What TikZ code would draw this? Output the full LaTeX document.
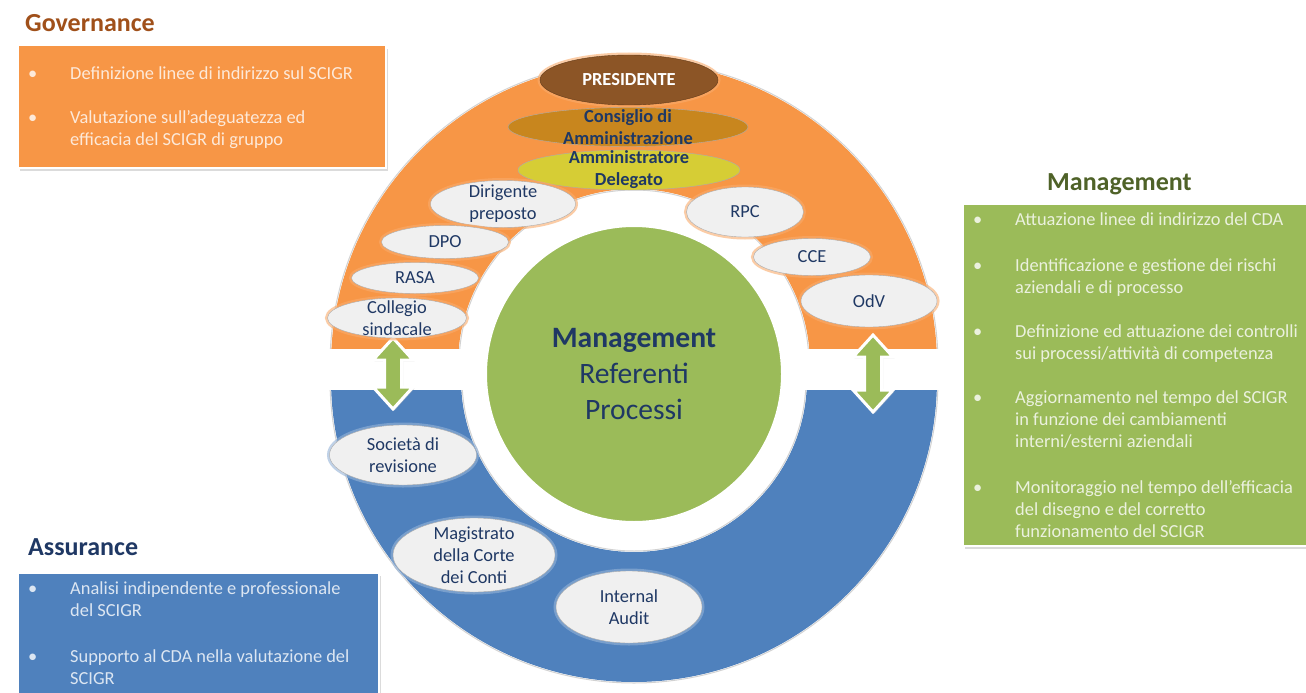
\documentclass[tikz,border=0pt]{standalone}
\usepackage{fontspec}
\setmainfont{Carlito}
\usetikzlibrary{shapes.geometric,shadows}

\definecolor{govorange}{HTML}{F79646}
\definecolor{govhead}{HTML}{A0501A}
\definecolor{govtxt}{HTML}{FDE9D9}
\definecolor{mgmtgreen}{HTML}{9BBB59}
\definecolor{mgmthead}{HTML}{4F6228}
\definecolor{mgmttxt}{HTML}{EBF1DE}
\definecolor{assblue}{HTML}{4F81BD}
\definecolor{asshead}{HTML}{1F3864}
\definecolor{asstxt}{HTML}{DCE6F2}
\definecolor{navytxt}{HTML}{1F3864}
\definecolor{presbrown}{HTML}{8C5526}
\definecolor{cdagold}{HTML}{C8861E}
\definecolor{adyellow}{HTML}{D6CD35}
\definecolor{ellgray}{HTML}{F0F0F0}

\tikzset{
  roleell/.style={ellipse, draw=gray!65, fill=ellgray, inner sep=0pt},
  orangeglow/.style={preaction={draw=govorange!80, line width=5pt, opacity=.6}},
  blueglow/.style={preaction={draw=assblue!60!white, line width=5pt, opacity=.6}},
  roletext/.style={text=navytxt, align=center, font=\fontsize{18.4}{22}\selectfont},
  boxtext/.style={anchor=base west, inner sep=0pt, font=\fontsize{18.4}{22}\selectfont},
  headtext/.style={anchor=base west, inner sep=0pt, font=\fontsize{26}{30}\selectfont\bfseries},
  infobox/.style={draw=white, line width=1.5pt, inner sep=0pt, anchor=north west,
    drop shadow={shadow xshift=2pt, shadow yshift=-3pt, fill=gray!55}},
}

\begin{document}
\begin{tikzpicture}[x=1pt,y=-1pt]
  \useasboundingbox[fill=white] (0,0) rectangle (1306,693);

  % Governance half ring (top)
  \begin{scope}
    \clip (300,40) rectangle (1000,348);
    \fill[govorange, even odd rule] (634,365) circle (303pt) (634,365) circle (176pt);
    \draw[gray!35, line width=1pt] (634,365) circle (304pt) (634,365) circle (175pt);
  \end{scope}

  % Assurance half ring (bottom)
  \begin{scope}
    \clip (300,390) rectangle (1000,693);
    \fill[assblue, even odd rule] (634,379) circle (303pt) (634,379) circle (173pt);
    \draw[gray!35, line width=1pt] (634,379) circle (304pt) (634,379) circle (172pt);
  \end{scope}

  % Management core
  \node[circle, fill=mgmtgreen, draw=white, line width=2pt, minimum size=296pt, inner sep=0pt] (core) at (634,374) {};
  \node[text=navytxt, align=center, font=\fontsize{29.6}{36}\selectfont] (coretext) at (core.center)
    {{\bfseries Management}\\Referenti\\Processi};

  % double arrows between the rings
  \foreach \ax/\at/\ab in {393/338/409, 873/335/412} {
    \fill[mgmtgreen, draw=white, line width=3pt, line join=miter,
      drop shadow={shadow xshift=1.5pt, shadow yshift=-1.5pt, fill=gray!45}]
      (\ax,\at) -- ++(20,22) -- ++(-11.5,0) -- (\ax+8.5,\ab-22) -- ++(11.5,0)
      -- (\ax,\ab) -- ++(-20,-22) -- ++(11.5,0) -- (\ax-8.5,\at+22) -- ++(-11.5,0) -- cycle;
  }

  % governance bodies
  \node[roleell, orangeglow, fill=presbrown, draw=presbrown!70!black, minimum width=178pt, minimum height=50pt] (pres) at (629,80) {};
  \node[text=white, font=\fontsize{18.4}{22}\selectfont\bfseries] at (pres) {PRESIDENTE};
  \node[roleell, fill=cdagold, minimum width=240pt, minimum height=39pt] (cda) at (628,127) {};
  \node[roletext, font=\fontsize{18.4}{22}\selectfont\bfseries] at (cda) {Consiglio di\\Amministrazione};
  \node[roleell, fill=adyellow, minimum width=222pt, minimum height=40pt] (ad) at (629,170) {};
  \node[roletext, font=\fontsize{18.4}{22}\selectfont\bfseries] at (ad) {Amministratore\\Delegato};

  \node[roleell, orangeglow, minimum width=145pt, minimum height=47pt] (dir) at (503,204) {};
  \node[roletext] at (dir) {Dirigente\\preposto};
  \node[roleell, orangeglow, minimum width=127pt, minimum height=33pt] (dpo) at (445,242) {};
  \node[roletext] at (dpo) {DPO};
  \node[roleell, orangeglow, minimum width=127pt, minimum height=31pt] (rasa) at (415,278) {};
  \node[roletext] at (rasa) {RASA};
  \node[roleell, orangeglow, minimum width=139pt, minimum height=40pt] (coll) at (397,318) {};
  \node[roletext] at (coll) {Collegio\\sindacale};

  \node[roleell, orangeglow, minimum width=117pt, minimum height=50pt] (rpc) at (745,212) {};
  \node[roletext] at (rpc) {RPC};
  \node[roleell, orangeglow, minimum width=117pt, minimum height=37pt] (cce) at (812,257) {};
  \node[roletext] at (cce) {CCE};
  \node[roleell, orangeglow, minimum width=136pt, minimum height=52pt] (odv) at (869,301) {};
  \node[roletext] at (odv) {OdV};

  % assurance bodies
  \node[roleell, blueglow, minimum width=147pt, minimum height=60pt] (soc) at (403,455) {};
  \node[roletext] at (soc) {Società di\\revisione};
  \node[roleell, blueglow, minimum width=162pt, minimum height=74pt] (mag) at (474,555) {};
  \node[roletext] at (mag) {Magistrato\\della Corte\\dei Conti};
  \node[roleell, blueglow, minimum width=146pt, minimum height=72pt] (ia) at (629,607) {};
  \node[roletext] at (ia) {Internal\\Audit};

  % Governance box
  \node[headtext, text=govhead] (govtitle) at (25,32) {Governance};
  \node[infobox, fill=govorange, minimum width=368pt, minimum height=122pt] (govbox) at (17,45) {};
  \foreach \yy in {79,123}
    \node[boxtext, text=govtxt] at (28,\yy) {•};
  \foreach \yy/\txt in {79/{Definizione linee di indirizzo sul SCIGR}, 123/{Valutazione sull’adeguatezza ed}, 145/{efficacia del SCIGR di gruppo}}
    \node[boxtext, text=govtxt] at (70,\yy) {\txt};

  % Management box
  \node[headtext, text=mgmthead] (mgmttitle) at (1047,190) {Management};
  \node[infobox, fill=mgmtgreen, minimum width=352pt, minimum height=342pt] (mgmtbox) at (962,203) {};
  \foreach \yy in {225,271,337,403,493}
    \node[boxtext, text=mgmttxt] at (973,\yy) {•};
  \foreach \yy/\txt in {225/{Attuazione linee di indirizzo del CDA},
      271/{Identificazione e gestione dei rischi}, 293/{aziendali e di processo},
      337/{Definizione ed attuazione dei controlli}, 359/{sui processi/attività di competenza},
      403/{Aggiornamento nel tempo del SCIGR}, 425/{in funzione dei cambiamenti}, 447/{interni/esterni aziendali},
      493/{Monitoraggio nel tempo dell’efficacia}, 515/{del disegno e del corretto}, 537/{funzionamento del SCIGR}}
    \node[boxtext, text=mgmttxt] at (1015,\yy) {\txt};

  % Assurance box
  \node[headtext, text=asshead] (asstitle) at (28,555) {Assurance};
  \node[infobox, fill=assblue, minimum width=361pt, minimum height=130pt] (assbox) at (17,572) {};
  \foreach \yy in {594,662}
    \node[boxtext, text=asstxt] at (28,\yy) {•};
  \foreach \yy/\txt in {594/{Analisi indipendente e professionale}, 616/{del SCIGR},
      662/{Supporto al CDA nella valutazione del}, 684/{SCIGR}}
    \node[boxtext, text=asstxt] at (70,\yy) {\txt};
\end{tikzpicture}
\end{document}
